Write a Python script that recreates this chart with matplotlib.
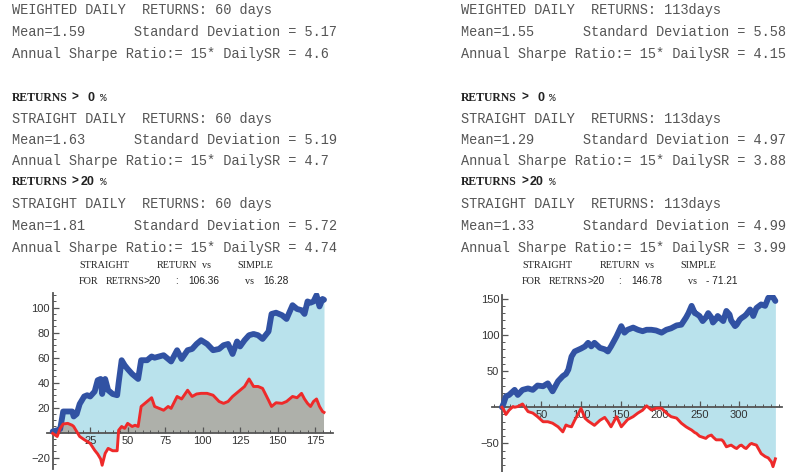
import numpy as np
import matplotlib
matplotlib.use("Agg")
import matplotlib.pyplot as plt
from matplotlib.ticker import FixedLocator, MultipleLocator

# ---- text panels -------------------------------------------------------
left_stats = [
    "WEIGHTED DAILY  RETURNS: 60 days",
    "Mean=1.59      Standard Deviation = 5.17",
    "Annual Sharpe Ratio:= 15* DailySR = 4.6",
    "STRAIGHT DAILY  RETURNS: 60 days",
    "Mean=1.63      Standard Deviation = 5.19",
    "Annual Sharpe Ratio:= 15* DailySR = 4.7",
    "STRAIGHT DAILY  RETURNS: 60 days",
    "Mean=1.81      Standard Deviation = 5.72",
    "Annual Sharpe Ratio:= 15* DailySR = 4.74",
]
right_stats = [
    "WEIGHTED DAILY  RETURNS: 113days",
    "Mean=1.55      Standard Deviation = 5.58",
    "Annual Sharpe Ratio:= 15* DailySR = 4.15",
    "STRAIGHT DAILY  RETURNS: 113days",
    "Mean=1.29      Standard Deviation = 4.97",
    "Annual Sharpe Ratio:= 15* DailySR = 3.88",
    "STRAIGHT DAILY  RETURNS: 113days",
    "Mean=1.33      Standard Deviation = 4.99",
    "Annual Sharpe Ratio:= 15* DailySR = 3.99",
]
thresholds = ["0", "20"]
left_totals = ("106.36", "16.28")
right_totals = ("146.78", "- 71.21")

# ---- series: cumulative returns, STRAIGHT (blue) vs SIMPLE (red) -------
left_days = [0, 3, 5, 7, 10, 13, 14, 16, 18, 21, 23, 25, 28, 30, 32, 33, 35, 37,
             40, 43, 44, 46, 48, 50, 53, 55, 57, 59, 63, 66, 68, 71, 74, 77, 79,
             83, 86, 90, 93, 96, 99, 103, 107, 111, 114, 117, 120, 123, 125,
             128, 131, 134, 137, 140, 144, 146, 149, 153, 156, 160, 163, 166,
             168, 170, 172, 174, 176, 178, 180, 181]
left_straight = [1, 2, 3, 17, 17, 17, 13, 15, 23, 29, 30, 29, 33, 42, 43, 31, 43,
                 34, 31, 30, 40, 58, 54, 51, 47, 45, 43, 58, 58, 61, 60, 61, 62,
                 59, 57, 66, 59, 66, 67, 71, 74, 71, 66, 67, 70, 71, 63, 73, 69,
                 74, 78, 79, 78, 75, 81, 95, 96, 94, 91, 102, 99, 98, 95, 105,
                 104, 105, 110, 101, 107, 106.36]
left_simple = [-0.5, -3, 3.5, 7, 7.5, 6, 5, 1, -3, -5.5, -7, -8.5, -14, -17, -21,
               -26, -16.5, -12.5, -14.4, -14.4, 2, 5, 3.5, 7.5, 5, 6, 5, 21, 25,
               28, 21, 19.5, 18, 21, 19.5, 29, 27, 34, 29, 31, 31.5, 31.5, 30,
               25, 23.5, 25, 29, 32, 34, 37, 43, 37, 37, 35.5, 26, 21, 24, 23.5,
               25, 29, 28, 31.5, 27, 23.5, 21, 25, 27, 21, 17, 16.28]

right_days = [0, 2, 5, 9, 14, 16, 20, 26, 33, 39, 45, 52, 58, 64, 71, 77, 81, 84,
              88, 92, 98, 100, 105, 109, 113, 117, 124, 130, 134, 138, 145, 151,
              155, 159, 166, 172, 178, 183, 189, 195, 202, 208, 214, 221, 227,
              233, 236, 240, 244, 246, 250, 254, 258, 261, 265, 267, 271, 273,
              278, 280, 284, 288, 290, 295, 297, 301, 303, 307, 309, 314, 316,
              318, 322, 328, 333, 337, 341, 343, 346]
right_straight = [0, 5, 15, 17, 22, 24, 17, 24, 26, 24, 30, 29, 33, 22, 36, 43,
                  46, 52, 70, 77, 80, 81, 84, 89, 84, 89, 82, 80, 77, 84, 98, 112,
                  103, 107, 110, 107, 105, 107, 107, 106, 103, 107, 109, 113, 114,
                  124, 130, 140, 130, 129, 126, 119, 124, 130, 124, 117, 122, 126,
                  121, 119, 133, 128, 120, 112, 114, 121, 123, 126, 128, 135, 131,
                  126, 137, 142, 140, 151, 154, 152, 146.78]
right_simple = [0, -3, -10, -4, 1, 0, 1, 4.5, -6, -8, -13, -20, -20, -22, -27,
                -34, -24.5, -26, -27, -18, -6, -1.5, -15, -19, -22, -25, -18, -14,
                -20, -27, -13, -27, -22, -17, -13, -8, -4, 2, -3.7, -1.4, -1.4,
                -8, -13, -15, -22, -27, -29, -31.5, -35, -36, -40, -41.5, -43, -40,
                -38.4, -41, -45, -45, -45, -47, -54.6, -53, -52.3, -56, -57, -53,
                -52.3, -56, -57, -51, -50, -51, -52.3, -64, -68, -70, -75.5, -82,
                -71.21]

BLUE = "#3152a3"
RED = "#ee2a2a"
FILL = "#b9e2ec"
GREY = "#aeb0aa"
AXC = "#555555"
TXT = "#555555"
DARK = "#222222"

W, H = 786, 472
fig = plt.figure(figsize=(W / 100, H / 100), dpi=100)


def px(x, y):
    return x / W, 1 - y / H


def stats_column(x0, lines, dx):
    rows = [10, 32, 54, 119, 140, 161, 204, 226, 248]
    for y, s in zip(rows, lines):
        fig.text(*px(x0, y), s, family="Liberation Mono", fontsize=9.8,
                 color=TXT, va="center", ha="left")
    for y, th in zip([98, 182], thresholds):
        fig.text(*px(x0, y), "RETURNS", family="Liberation Serif",
                 weight="bold", fontsize=8.5, color=DARK, va="center")
        fig.text(*px(x0 + 60, y), ">", family="Liberation Sans",
                 weight="bold", fontsize=8.5, color=DARK, va="center")
        fig.text(*px(x0 + (76 if th == "0" else 69), y), th,
                 family="Liberation Sans", weight="bold", fontsize=9,
                 color=DARK, va="center")
        fig.text(*px(x0 + 88, y), "%", family="Liberation Mono",
                 fontsize=8, color=DARK, va="center")
    # chart caption, first line
    for s, x in [("STRAIGHT", 79), ("RETURN", 157), ("vs", 202), ("SIMPLE", 237)]:
        fig.text(*px(x + dx, 266), s, family="Liberation Serif", fontsize=7.3,
                 color=DARK, va="center")


def caption2(dx, totals):
    parts = [("FOR", 79, "Liberation Serif"), ("RETRNS", 106, "Liberation Serif"),
             (">20", 144, "Liberation Sans"), (":", 175, "Liberation Sans"),
             (totals[0], 188, "Liberation Sans"), ("vs", 245, "Liberation Serif"),
             (totals[1], 263, "Liberation Sans")]
    for s, x, fam in parts:
        fig.text(*px(x + dx, 281), s, family=fam, fontsize=7.3,
                 color=DARK, va="center")


stats_column(12, left_stats, 0)
stats_column(461, right_stats, 443)
caption2(0, left_totals)
caption2(443, right_totals)


def panel(rect, days, straight, simple, xlim, ylim, xmaj, xmin, ymaj, ymin):
    l, t, r, b = rect
    ax = fig.add_axes([l / W, 1 - b / H, (r - l) / W, (b - t) / H])
    days = np.array(days)
    straight = np.array(straight)
    simple = np.array(simple)
    ax.fill_between(days, straight, simple, color=FILL, lw=0, zorder=1)
    ax.fill_between(days, 0, simple, where=simple > 0, interpolate=True,
                    color=GREY, lw=0, zorder=1.5)
    ax.plot(days, straight, color=BLUE, lw=4.2, solid_joinstyle="round",
            solid_capstyle="round", zorder=3)
    ax.plot(days, simple, color=RED, lw=2.1, solid_joinstyle="round", zorder=3)
    ax.set_xlim(*xlim)
    ax.set_ylim(*ylim)
    ax.patch.set_visible(False)
    for side in ["top", "right"]:
        ax.spines[side].set_visible(False)
    ax.spines["left"].set_position(("data", 0))
    ax.spines["bottom"].set_position(("data", 0))
    for side in ["left", "bottom"]:
        ax.spines[side].set_color(AXC)
        ax.spines[side].set_linewidth(1.3)
        ax.spines[side].set_zorder(2)
    ax.xaxis.set_major_locator(FixedLocator(xmaj))
    ax.xaxis.set_minor_locator(MultipleLocator(xmin))
    ax.yaxis.set_major_locator(FixedLocator(ymaj))
    ax.yaxis.set_minor_locator(MultipleLocator(ymin))
    ax.tick_params(which="major", direction="in", length=4, width=0.9,
                   color=AXC, labelsize=8, labelcolor="#333333", pad=2)
    ax.tick_params(which="minor", direction="in", length=2, width=0.7, color=AXC)
    for lab in ax.get_xticklabels() + ax.get_yticklabels():
        lab.set_family("Liberation Sans")
    ax.set_yticklabels([str(v).replace("-", "\u2212") for v in ymaj])
    ax.set_xticklabels([str(v) for v in xmaj])
    return ax


panel((46.7, 292.7, 333, 469), left_days, left_straight, left_simple,
      (-4, 187), (-29, 112), [25, 50, 75, 100, 125, 150, 175], 5,
      [-20, 20, 40, 60, 80, 100], 5)
panel((491.7, 295, 781.7, 471.7), right_days, right_straight, right_simple,
      (-13, 354), (-89, 155), [50, 100, 150, 200, 250, 300], 10,
      [-50, 50, 100, 150], 10)

fig.savefig("out.png", dpi=100)
